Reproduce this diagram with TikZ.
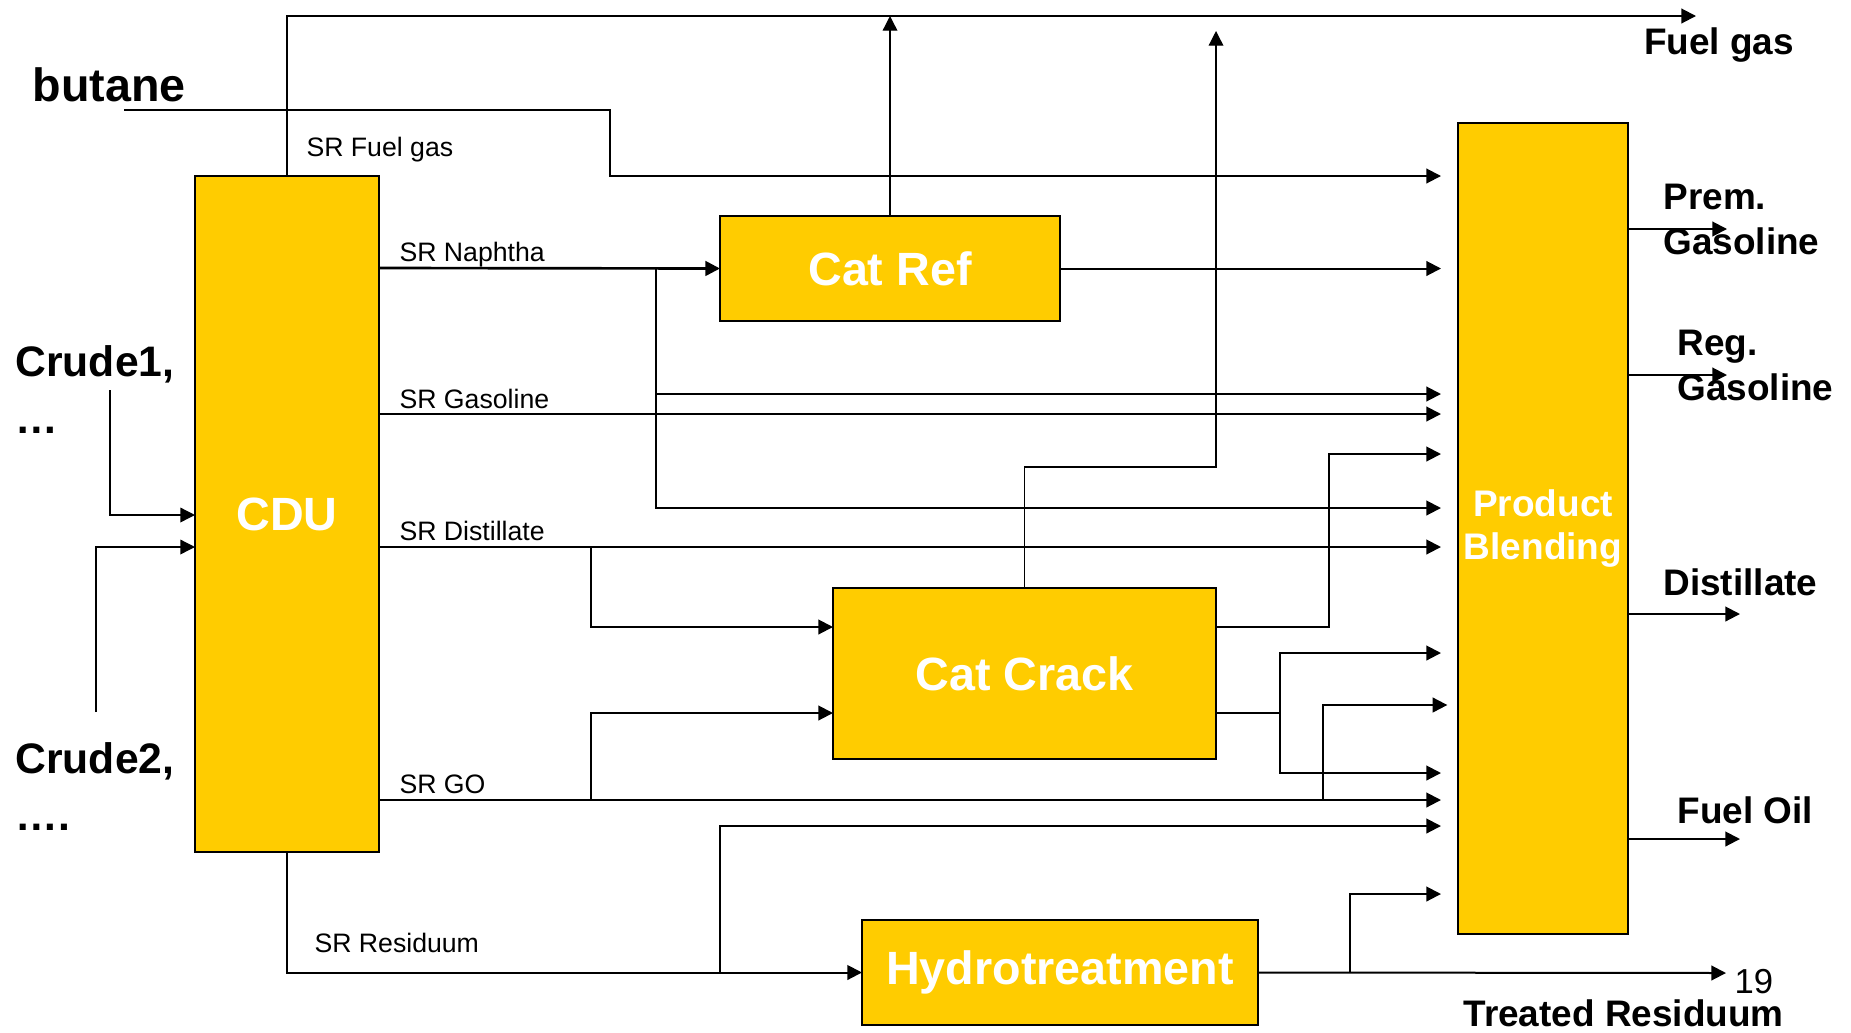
\documentclass[tikz,border=0pt]{standalone}
\usepackage{fontspec}
\setmainfont{Liberation Sans}
\usetikzlibrary{arrows.meta}

\definecolor{unitgold}{HTML}{FFCC00}

\tikzset{every picture/.style={line width=0.75pt}}
\tikzset{
  unit/.style={draw,line width=1.5pt,fill=unitgold,inner sep=0pt,outer sep=0pt,text=white,align=center,font=\bfseries\fontsize{35}{40}\selectfont},
  flow/.style={line width=1.5pt,-{Triangle[length=11pt,width=11pt]}},
  thinflow/.style={flow,line width=1pt},
  feed/.style={flow,shorten >=12.75pt},
  stream/.style={anchor=west,inner sep=0pt,font=\fontsize{20}{24}\selectfont},
  product/.style={anchor=west,inner sep=0pt,align=left,font=\bfseries\fontsize{27.7}{33.5}\selectfont},
}

\begin{document}
\begin{tikzpicture}[x=0.75pt,y=0.75pt,yscale=-1,xscale=1]
\useasboundingbox (0,0) rectangle (1851,1032);

% process units
\node [unit,minimum width=138pt,minimum height=507pt] (cdu) at (287,514) {CDU};
\node [unit,minimum width=255pt,minimum height=78.75pt] (catref) at (890,268.5) {Cat Ref};
\node [unit,minimum width=287.25pt,minimum height=128.25pt] (catcrack) at (1024.5,673.5) {Cat Crack};
\node [unit,minimum width=297pt,minimum height=78.75pt] (hydro) at (1060,972.5) {Hydrotreatment};
\node [unit,minimum width=127.5pt,minimum height=608.25pt,font=\bfseries\fontsize{27.75}{32.8}\selectfont] (blend) at (1543,528.5) {Product\\Blending};

% free ends
\coordinate (fgEnd) at (1696,16);
\coordinate (ccGas) at (1216,31);
\coordinate (butStart) at (124,110);
\coordinate (crude1In) at (110,390);
\coordinate (crude2In) at (96,712);
\coordinate (premEnd) at (1727,229);
\coordinate (regEnd) at (1727,375);
\coordinate (distEnd) at (1740,614);
\coordinate (foEnd) at (1740,839);
\coordinate (trEnd) at (1726,973);

% fuel gas header
\draw [flow] (cdu.north) -- (cdu.north |- fgEnd) -- (fgEnd);
\draw [thinflow] (catref.north) -- (catref.north |- fgEnd);
\draw [thinflow] (catcrack.north) -- (catcrack.north |- 0,467) -- (ccGas |- 0,467) -- (ccGas);

% butane
\draw [feed] (butStart) -- (610,110) -- (610,176) -- (blend.west |- 0,176);

% straight run cuts
\draw [flow,line width=2pt] (cdu.east |- 0,268) -- (catref.west);
\draw [feed] (656,268) |- (blend.west |- 0,508);
\draw [feed] (656,394) -- (blend.west |- 0,394);
\draw [feed] (catref.east) -- (blend.west |- catref.east);
\draw [feed] (cdu.east |- 0,414) -- (blend.west |- 0,414);
\draw [feed] (cdu.east |- 0,547) -- (blend.west |- 0,547);
\draw [flow] (591,547) |- (catcrack.west |- 0,627);
\draw [feed] (cdu.east |- 0,800) -- (blend.west |- 0,800);
\draw [flow] (591,800) |- (catcrack.west |- 0,713);
\draw [flow,shorten >=8pt] (1323,800) |- (blend.west |- 0,705);
\draw [flow] (cdu.south) |- (hydro.west);
\draw [feed] (720,973) |- (blend.west |- 0,826);

% cat crack products
\draw [feed] (catcrack.east |- 0,627) -| (1329,454) -- (blend.west |- 0,454);
\draw [feed] (catcrack.east |- 0,713) -| (1280,653) -- (blend.west |- 0,653);
\draw [feed] (1280,713) |- (blend.west |- 0,773);

% hydrotreated residuum
\draw [flow] (hydro.east) -- (trEnd);
\draw [feed] (1350,973) |- (blend.west |- 0,894);

% crudes
\draw [thinflow] (crude1In) |- (cdu.west |- 0,515);
\draw [thinflow] (crude2In) |- (cdu.west |- 0,547);

% blended products
\draw [flow] (blend.east |- premEnd) -- (premEnd);
\draw [flow] (blend.east |- regEnd) -- (regEnd);
\draw [flow] (blend.east |- distEnd) -- (distEnd);
\draw [flow] (blend.east |- foEnd) -- (foEnd);

% labels
\node [inner sep=0pt,font=\bfseries\fontsize{35}{40}\selectfont] (butane) at (109,85) {butane};
\node [inner sep=0pt,font=\bfseries\fontsize{27.7}{33}\selectfont] (fuelgas) at (1719,45) {Fuel gas};
\node [product,font=\bfseries\fontsize{32}{42.75}\selectfont] (crude1) at (15,390) {Crude1,\\…};
\node [product,font=\bfseries\fontsize{32}{42.75}\selectfont] (crude2) at (15,787) {Crude2,\\….};
\node [stream] (srfg) at (306,149.5) {SR Fuel gas};
\node [stream] (srnap) at (399,255) {SR Naphtha};
\node [stream] (srgas) at (399,399) {SR Gasoline};
\node [stream] (srdist) at (399,531) {SR Distillate};
\node [stream] (srgo) at (399,784) {SR GO};
\node [stream] (srres) at (314,943) {SR Residuum};
\node [product] (prem) at (1663,219.5) {Prem.\\Gasoline};
\node [product] (reg) at (1677,365.5) {Reg.\\Gasoline};
\node [product] (dist) at (1663,582) {Distillate};
\node [product] (fueloil) at (1677,810) {Fuel Oil};
\node [product,font=\bfseries\fontsize{27.7}{32}\selectfont] (treated) at (1463,1013) {Treated Residuum};
\node [stream,font=\fontsize{26}{30}\selectfont] (pagenum) at (1734,982) {19};

\end{tikzpicture}
\end{document}
